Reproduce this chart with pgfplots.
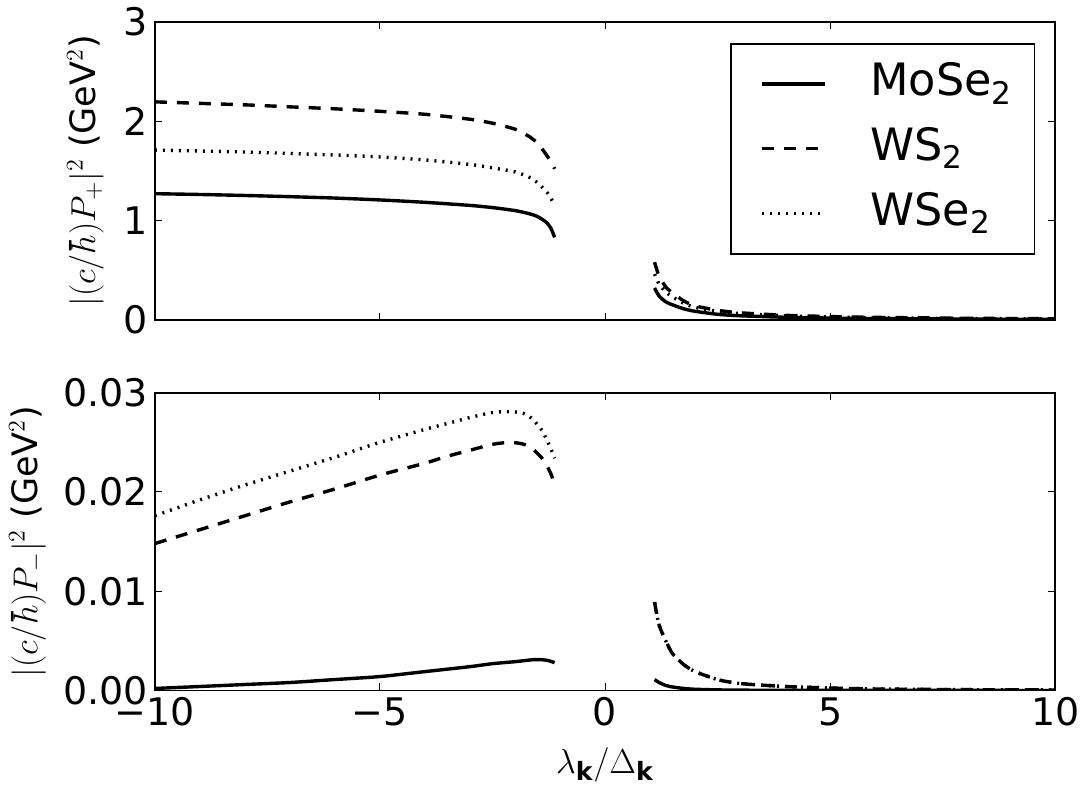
\documentclass[border=0pt]{standalone}
\usepackage{pgfplots}
\pgfplotsset{compat=1.18}
\usepackage{fontspec}
\setmainfont{DejaVu Sans}

\pgfplotsset{
  panel/.style={
    scale only axis, width=450.5pt, height=149pt,
    xmin=-10, xmax=10,
    axis line style={line width=0.9pt},
    tick align=inside, xtick pos=both, ytick pos=both,
    major tick length=3.5pt,
    tick style={line width=0.5pt, black},
    ticklabel style={font=\fontsize{19}{19}\selectfont},
    xtick={-10,-5,0,5,10},
    every axis y label/.style={at={(axis description cs:0,0.5)}, rotate=90,
      anchor=south, yshift=22pt, font=\fontsize{17.5}{17.5}\selectfont},
    every axis plot/.append style={line width=1.7pt, black, smooth, tension=0.4},
  },
  mose/.style={solid},
  ws/.style={dash pattern=on 6pt off 5pt},
  wse/.style={dash pattern=on 1pt off 3pt},
}

\begin{document}
\begin{tikzpicture}
% top panel
\begin{axis}[panel,
  ymin=0, ymax=3, ytick={0,1,2,3}, yticklabels={0,1,2,3},
  xticklabels={},
  ylabel={$|(c/\hbar)P_+|^2$ (GeV$^2$)},
  legend style={at={(0.978,0.9295)}, anchor=north east, draw=black, line width=0.8pt,
    font=\fontsize{22.3}{22.3}\selectfont, inner xsep=11pt, inner ysep=10pt,
    row sep=12.4pt, column sep=22pt,
    nodes={inner sep=0pt, text height=15.7pt, text depth=4.4pt}},
  legend cell align=left,
  legend image code/.code={\path (0pt,0pt); \draw[#1] (3.5pt,0pt) -- (35pt,0pt);},
]
\addplot[mose] coordinates {
(-10,1.27) (-9,1.262) (-8,1.252) (-7,1.24) (-6,1.226) (-5,1.207) (-4,1.183) (-3,1.152)
(-2.5,1.13) (-2,1.10) (-1.7,1.07) (-1.5,1.04) (-1.3,0.98) (-1.2,0.92) (-1.12,0.83)};
\addlegendentry{MoSe\textsubscript{2}}
\addplot[ws] coordinates {
(-10,2.195) (-9,2.18) (-8,2.165) (-7,2.145) (-6,2.125) (-5,2.10) (-4,2.07) (-3,2.02)
(-2.5,1.98) (-2,1.92) (-1.7,1.85) (-1.5,1.78) (-1.3,1.66) (-1.2,1.59) (-1.12,1.52)};
\addlegendentry{WS\textsubscript{2}}
\addplot[wse] coordinates {
(-10,1.71) (-9,1.70) (-8,1.69) (-7,1.675) (-6,1.66) (-5,1.64) (-4,1.61) (-3,1.565)
(-2.5,1.53) (-2,1.49) (-1.7,1.44) (-1.5,1.38) (-1.3,1.29) (-1.2,1.22) (-1.12,1.16)};
\addlegendentry{WSe\textsubscript{2}}
\addplot[mose, forget plot] coordinates {
(1.1,0.32) (1.2,0.24) (1.35,0.18) (1.5,0.15) (1.75,0.11) (2,0.085) (2.5,0.055) (3,0.04)
(4,0.025) (5,0.017) (6,0.012) (7,0.009) (8,0.007) (9,0.005) (10,0.004)};
\addplot[ws, forget plot] coordinates {
(1.1,0.58) (1.2,0.44) (1.35,0.33) (1.5,0.27) (1.75,0.19) (2,0.14) (2.5,0.095) (3,0.07)
(4,0.045) (5,0.032) (6,0.024) (7,0.019) (8,0.015) (9,0.012) (10,0.01)};
\addplot[wse, forget plot] coordinates {
(1.1,0.46) (1.2,0.36) (1.35,0.28) (1.5,0.23) (1.75,0.165) (2,0.125) (2.5,0.085) (3,0.062)
(4,0.04) (5,0.028) (6,0.021) (7,0.016) (8,0.013) (9,0.010) (10,0.008)};
\end{axis}

% bottom panel
\begin{axis}[panel,
  yshift=-185.5pt,
  ymin=0, ymax=0.03, ytick={0,0.01,0.02,0.03},
  yticklabels={0.00,0.01,0.02,0.03}, scaled y ticks=false,
  xticklabels={−10,−5,0,5,10},
  ylabel={$|(c/\hbar)P_-|^2$ (GeV$^2$)},
  ylabel style={yshift=29pt},
  xlabel={$\lambda_{\mathbf{k}}/\Delta_{\mathbf{k}}$},
  every axis x label/.style={at={(axis description cs:0.5,0)}, yshift=-37pt, anchor=center,
    font=\fontsize{18}{18}\selectfont},
]
\addplot[mose] coordinates {
(-10,0.0002) (-9,0.0004) (-8,0.0006) (-7,0.0008) (-6,0.0011) (-5,0.0014) (-4,0.0019)
(-3,0.0024) (-2.5,0.0027) (-2,0.0029) (-1.6,0.0031) (-1.4,0.0031) (-1.25,0.0030) (-1.12,0.0028)};
\addplot[ws] coordinates {
(-10,0.0148) (-9,0.0162) (-8,0.0176) (-7,0.0190) (-6,0.0203) (-5,0.0217) (-4,0.0229)
(-3.5,0.0236) (-3,0.0242) (-2.5,0.0248) (-2.1,0.0250) (-1.8,0.0248) (-1.6,0.0243)
(-1.4,0.0234) (-1.3,0.0227) (-1.2,0.0218) (-1.12,0.0207)};
\addplot[wse] coordinates {
(-10,0.0176) (-9,0.0192) (-8,0.0207) (-7,0.0221) (-6,0.0235) (-5,0.0250) (-4,0.0263)
(-3.5,0.0269) (-3,0.0275) (-2.5,0.0280) (-2.1,0.0281) (-1.8,0.0279) (-1.6,0.0273)
(-1.4,0.0262) (-1.3,0.0253) (-1.2,0.0243) (-1.12,0.0234)};
\addplot[mose] coordinates {
(1.1,0.0011) (1.2,0.0008) (1.35,0.0005) (1.5,0.00035) (1.75,0.0002) (2,0.00012)
(2.5,0.00006) (3,0.00003) (5,0.00001) (10,0)};
\addplot[ws] coordinates {
(1.1,0.0089) (1.2,0.0066) (1.35,0.0050) (1.5,0.0037) (1.75,0.0026) (2,0.0019) (2.5,0.0011)
(3,0.0007) (4,0.0004) (5,0.00025) (6,0.00015) (8,0.00008) (10,0.00005)};
\addplot[wse] coordinates {
(1.1,0.0089) (1.2,0.0066) (1.35,0.0050) (1.5,0.0037) (1.75,0.0026) (2,0.0019) (2.5,0.0011)
(3,0.0007) (4,0.0004) (5,0.00025) (6,0.00015) (8,0.00008) (10,0.00005)};
\end{axis}
\path[use as bounding box] (-77.5pt,-233pt) rectangle (465.5pt,160pt);
\end{tikzpicture}
\end{document}
